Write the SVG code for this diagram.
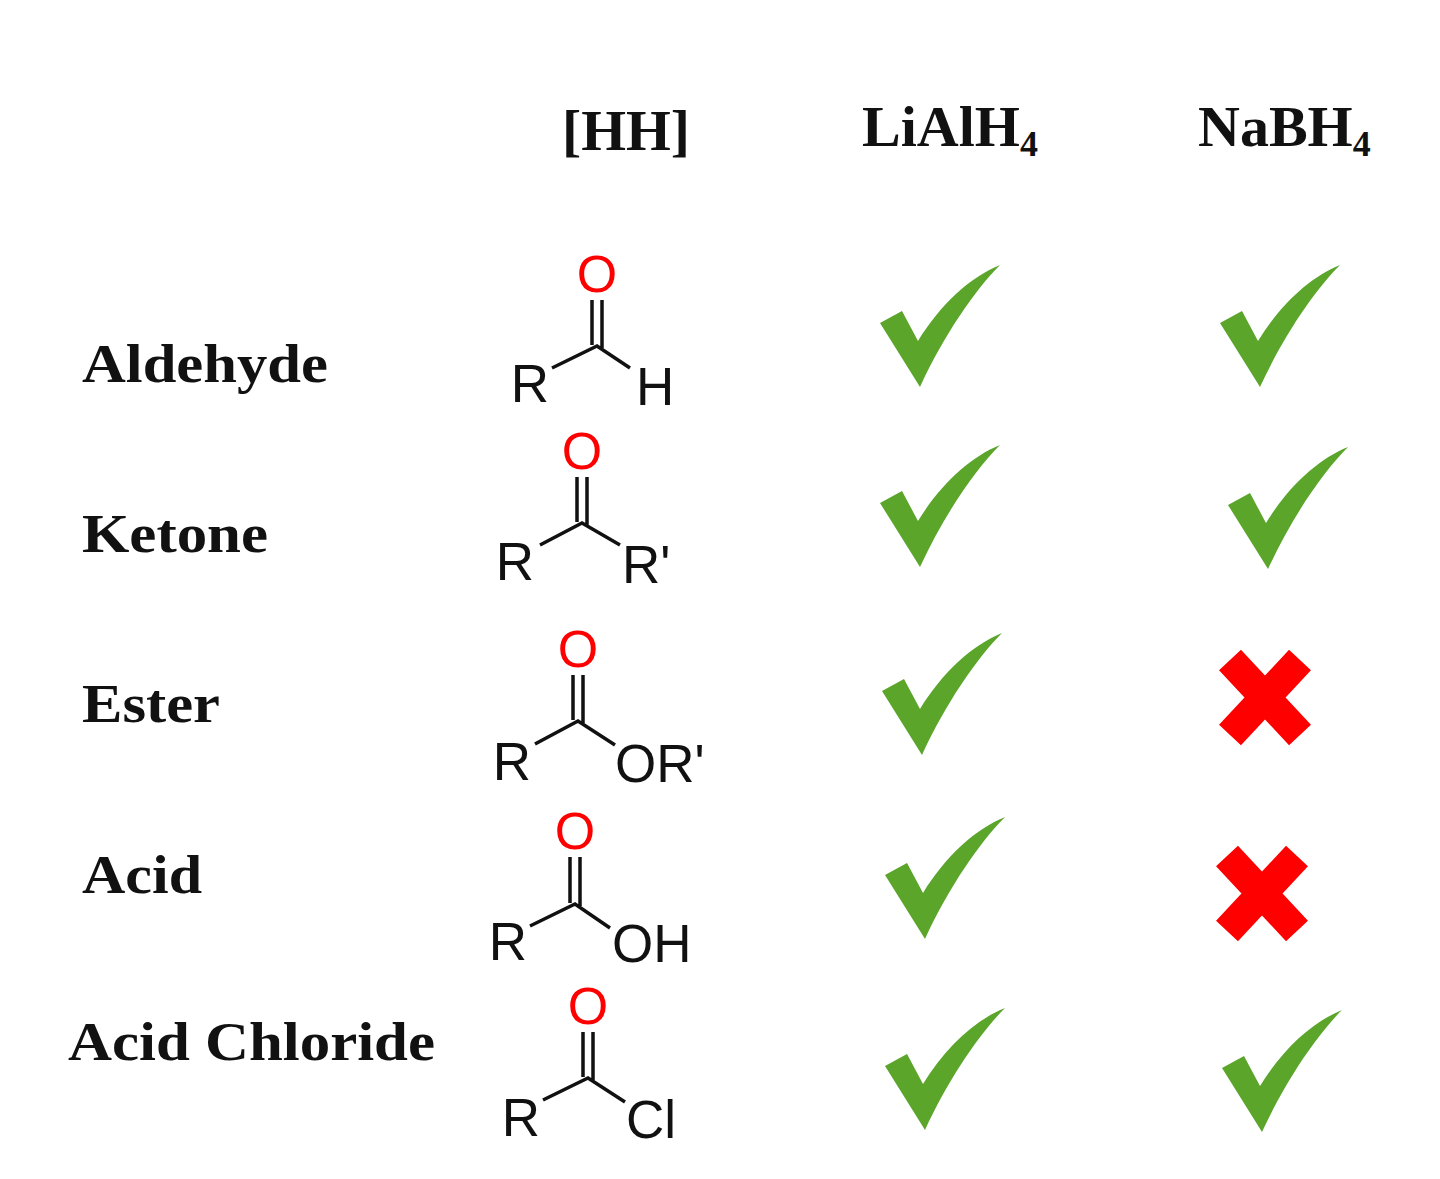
<svg xmlns="http://www.w3.org/2000/svg" xmlns:xlink="http://www.w3.org/1999/xlink" width="1440" height="1179" viewBox="0 0 1440 1179">
<style>
.hd{font-family:"Liberation Serif",serif;font-weight:bold;font-size:58px;fill:#111}
.lb{font-family:"Liberation Serif",serif;font-weight:bold;font-size:54px;fill:#111}
.at{font-family:"Liberation Sans",sans-serif;font-size:53px;fill:#111}
.ox{font-family:"Liberation Sans",sans-serif;font-size:52px;fill:#f00;text-anchor:middle}
.bd{stroke:#111;stroke-width:3.5;fill:none}
.x{stroke:#f00;stroke-width:30}
</style>
<defs>
<path id="chk" fill="#5aa52a" d="M0,58 L22,46 L38,76 C60,40 90,12 120,0 C95,25 64,70 40,122 Z"/>
</defs>
<rect width="1440" height="1179" fill="#fff"/>
<g id="headers">
<text class="hd" x="562" y="150" textLength="128" lengthAdjust="spacingAndGlyphs">[HH]</text>
<text class="hd" x="862" y="146">LiAlH<tspan font-size="36" dy="10">4</tspan></text>
<text class="hd" x="1198" y="146">NaBH<tspan font-size="36" dy="10">4</tspan></text>
</g>
<g id="labels">
<text class="lb" x="82" y="382" textLength="246" lengthAdjust="spacingAndGlyphs">Aldehyde</text>
<text class="lb" x="82" y="552" textLength="186" lengthAdjust="spacingAndGlyphs">Ketone</text>
<text class="lb" x="82" y="722" textLength="138" lengthAdjust="spacingAndGlyphs">Ester</text>
<text class="lb" x="82" y="893" textLength="120" lengthAdjust="spacingAndGlyphs">Acid</text>
<text class="lb" x="68" y="1060" textLength="367" lengthAdjust="spacingAndGlyphs">Acid Chloride</text>
</g>
<g id="aldehyde">
<text class="ox" x="597" y="292">O</text>
<path class="bd" d="M592,300 V345 M602,300 V348 M552,368 L597,346 L630,368"/>
<text class="at" x="530" y="402" text-anchor="middle">R</text>
<text class="at" x="636" y="405">H</text>
</g>
<g id="ketone">
<text class="ox" x="582" y="469">O</text>
<path class="bd" d="M577,477 V522 M587,477 V525 M540,545 L582,523 L620,545"/>
<text class="at" x="515" y="580" text-anchor="middle">R</text>
<text class="at" x="622" y="583">R'</text>
</g>
<g id="ester">
<text class="ox" x="578" y="667">O</text>
<path class="bd" d="M573,675 V720 M583,675 V723 M535,744 L578,721 L615,745"/>
<text class="at" x="512" y="780" text-anchor="middle">R</text>
<text class="at" x="615" y="782">OR'</text>
</g>
<g id="acid">
<text class="ox" x="575" y="849">O</text>
<path class="bd" d="M570,857 V903 M580,857 V906 M530,926 L575,904 L610,928"/>
<text class="at" x="508" y="960" text-anchor="middle">R</text>
<text class="at" x="612" y="962">OH</text>
</g>
<g id="acidchloride">
<text class="ox" x="588" y="1024">O</text>
<path class="bd" d="M583,1032 V1077 M593,1032 V1080 M543,1100 L588,1078 L625,1102"/>
<text class="at" x="521" y="1136" text-anchor="middle">R</text>
<text class="at" x="626" y="1138">Cl</text>
</g>
<g id="marks">
<use xlink:href="#chk" x="880" y="265"/>
<use xlink:href="#chk" x="1220" y="265"/>
<use xlink:href="#chk" x="880" y="445"/>
<use xlink:href="#chk" x="1228" y="447"/>
<use xlink:href="#chk" x="882" y="633"/>
<use xlink:href="#chk" x="885" y="817"/>
<use xlink:href="#chk" x="885" y="1008"/>
<use xlink:href="#chk" x="1222" y="1010"/>
<path class="x" d="M1230,660 L1300,735 M1300,660 L1230,735"/>
<path class="x" d="M1227,856 L1297,931 M1297,856 L1227,931"/>
</g>
</svg>
